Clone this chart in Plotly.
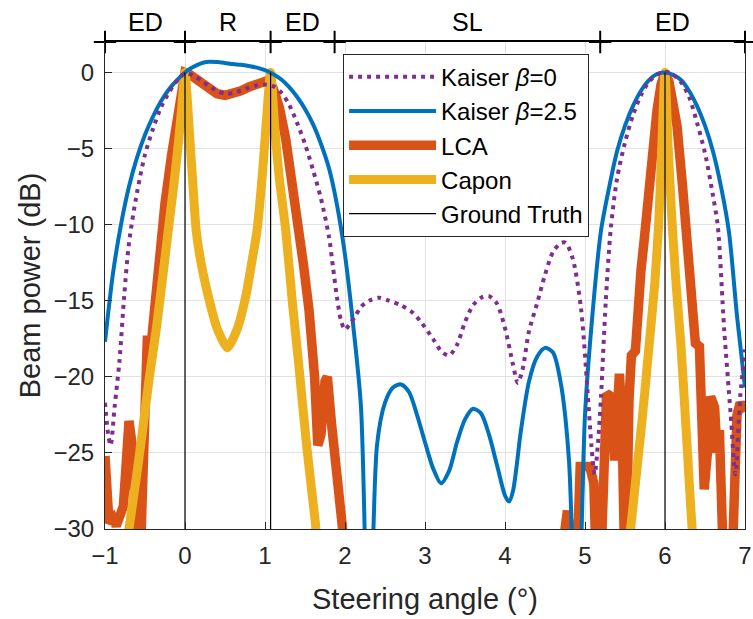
import plotly.graph_objects as go

# ---------------- data ----------------
# Kaiser beta = 0 (purple dotted)
k0_angle = [-1.0, -0.96, -0.93, -0.88, -0.82, -0.76, -0.7, -0.6, -0.5, -0.4, -0.3, -0.2, -0.1, 0.0,
            0.1, 0.2, 0.3, 0.4, 0.5, 0.6, 0.7, 0.8, 0.9, 1.0, 1.1, 1.2, 1.3, 1.4, 1.5, 1.6, 1.7, 1.8,
            1.85, 1.9, 1.95, 2.0, 2.05, 2.13, 2.2, 2.3, 2.42, 2.55, 2.7, 2.85, 2.95, 3.1, 3.2, 3.3,
            3.4, 3.5, 3.6, 3.7, 3.8, 3.9, 4.0, 4.1, 4.16, 4.22, 4.3, 4.4, 4.5, 4.6, 4.7, 4.76, 4.85,
            4.95, 5.03, 5.08, 5.12, 5.16, 5.2, 5.26, 5.32, 5.4, 5.5, 5.6, 5.7, 5.8, 5.9, 6.0, 6.1,
            6.2, 6.3, 6.4, 6.5, 6.6, 6.66, 6.74, 6.82, 6.88, 6.94, 7.0]
k0_power = [-21.7, -23.8, -24.5, -22.0, -19.0, -14.7, -11.2, -7.9, -5.4, -3.7, -2.3, -1.3, -0.55, -0.05,
            -0.2, -0.5, -0.9, -1.2, -1.4, -1.35, -1.2, -1.0, -0.85, -0.8, -0.9, -1.3, -2.1, -3.3, -4.7,
            -6.4, -8.3, -10.8, -12.8, -14.8, -16.3, -16.9, -16.6, -16.0, -15.4, -15.0, -14.8, -15.0,
            -15.3, -15.8, -16.4, -17.5, -18.3, -18.6, -17.9, -16.4, -15.3, -14.8, -14.7, -15.2, -16.8,
            -19.2, -20.4, -19.5, -17.0, -15.2, -13.3, -11.8, -11.2, -11.2, -12.3, -15.5, -20.8, -24.5,
            -26.4, -24.5, -21.3, -15.0, -10.4, -7.0, -4.6, -2.8, -1.5, -0.6, -0.15, 0.05, -0.15, -0.65,
            -1.6, -3.3, -5.3, -8.1, -10.1, -16.9, -22.4, -26.4, -21.3, -18.2]

# Kaiser beta = 2.5 (blue)
k25_angle = [-1.0, -0.9, -0.8, -0.7, -0.6, -0.5, -0.4, -0.3, -0.2, -0.1, 0.0, 0.1, 0.2, 0.3, 0.4,
             0.5, 0.6, 0.7, 0.8, 0.9, 1.0, 1.1, 1.2, 1.3, 1.4, 1.5, 1.6, 1.7, 1.8, 1.9, 2.0, 2.1,
             2.2, 2.3, 2.4, 2.5, 2.6, 2.7, 2.8, 2.9, 3.0, 3.1, 3.2, 3.3, 3.4, 3.5, 3.6, 3.7, 3.8,
             3.9, 4.0, 4.05, 4.1, 4.2, 4.3, 4.4, 4.5, 4.6, 4.7, 4.8, 4.9, 5.0, 5.1, 5.2, 5.3, 5.4,
             5.5, 5.6, 5.7, 5.8, 5.9, 6.0, 6.1, 6.2, 6.3, 6.4, 6.5, 6.6, 6.7, 6.8, 6.9, 7.0]
k25_power = [-17.7, -13.2, -10.0, -7.5, -5.6, -4.1, -2.9, -1.9, -1.1, -0.5, 0.0, 0.35, 0.6, 0.7, 0.68,
             0.62, 0.55, 0.5, 0.42, 0.32, 0.15, -0.1, -0.45, -0.95, -1.6, -2.4, -3.4, -4.7, -6.3,
             -8.7, -12.0, -16.5, -22.0, -40.0, -24.5, -21.7, -20.7, -20.5, -21.0, -22.5, -24.3,
             -26.0, -27.0, -26.2, -24.3, -22.8, -22.1, -22.4, -23.8, -25.8, -27.8, -28.2, -27.5,
             -23.5, -20.3, -18.7, -18.1, -18.4, -20.5, -25.5, -40.0, -22.5, -15.5, -10.4, -7.6,
             -5.2, -3.5, -2.2, -1.2, -0.5, -0.1, 0.0, -0.15, -0.5, -1.2, -2.2, -3.5, -5.2, -7.5,
             -10.5, -16.0, -20.7]

# LCA (red)
lca_angle = [-1.0, -0.95, -0.9, -0.86, -0.77, -0.70, -0.66, -0.61, -0.55, -0.50, -0.47, -0.44, -0.42,
             -0.38, -0.34, -0.30, -0.25, -0.17, -0.10, -0.05, 0.0, 0.05, 0.1, 0.2, 0.3, 0.4, 0.5,
             0.6, 0.7, 0.8, 0.9, 1.0, 1.05, 1.1, 1.18, 1.26, 1.34, 1.42, 1.48, 1.55, 1.62, 1.66,
             1.70, 1.75, 1.78, 1.83, 1.90, 1.96, 2.05, 4.65, 4.74, 4.78, 4.82, 4.91, 4.94, 5.06,
             5.11, 5.13, 5.21, 5.27, 5.33, 5.37, 5.43, 5.46, 5.49, 5.52, 5.55, 5.58, 5.63, 5.66,
             5.70, 5.74, 5.82, 5.90, 5.95, 6.0, 6.05, 6.1, 6.15, 6.22, 6.27, 6.33, 6.38, 6.43,
             6.45, 6.49, 6.53, 6.57, 6.62, 6.65, 6.68, 6.72, 6.85, 6.90, 6.94, 7.0]
lca_power = [-25.2, -29.6, -29.3, -29.8, -28.5, -22.9, -24.5, -30.5, -30.5, -18.0, -17.3, -18.8, -17.6,
             -15.5, -13.4, -10.9, -8.6, -5.5, -2.8, -1.2, 0.0, -0.1, -0.3, -0.7, -1.1, -1.4, -1.5,
             -1.4, -1.2, -0.95, -0.75, -0.6, -0.5, -1.0, -2.3, -4.4, -7.1, -10.1, -12.6, -15.6,
             -20.0, -24.5, -23.8, -20.3, -20.0, -23.0, -27.0, -30.5, -34.0, -34.0, -30.5, -28.8,
             -30.5, -30.5, -25.9, -25.9, -27.0, -30.5, -30.5, -21.1, -21.3, -25.5, -19.8, -22.5,
             -30.5, -30.5, -21.5, -18.6, -18.3, -15.5, -13.0, -11.0, -6.3, -2.5, -0.8, 0.0, -0.6,
             -2.0, -3.5, -7.5, -11.0, -15.0, -17.8, -18.0, -21.0, -27.4, -25.0, -21.3, -22.0,
             -25.0, -23.5, -30.5, -30.5, -22.5, -21.7, -22.3]

# Capon (yellow)
capon_angle = [-0.76, -0.69, -0.6, -0.53, -0.45, -0.36, -0.28, -0.21, -0.14, -0.08, -0.04, 0.0,
               0.05, 0.1, 0.14, 0.2, 0.3, 0.4, 0.53, 0.65, 0.76, 0.85, 0.9, 0.97, 1.02, 1.07,
               1.12, 1.18, 1.26, 1.34, 1.42, 1.52, 1.63, 1.68, 3.0, 5.52, 5.57, 5.64, 5.72, 5.8,
               5.87, 5.92, 5.96, 6.0, 6.04, 6.09, 6.14, 6.2, 6.27, 6.34, 6.38]
capon_power = [-32.0, -29.6, -26.3, -23.5, -20.2, -16.9, -13.5, -10.4, -7.4, -4.5, -2.3, 0.0,
               -3.5, -7.5, -10.4, -12.5, -14.9, -16.8, -18.1, -16.9, -14.7, -12.0, -10.4, -6.5,
               -3.0, 0.0, -3.5, -7.0, -10.4, -15.0, -19.1, -24.5, -29.6, -32.0, -40.0, -32.0,
               -30.0, -26.5, -22.5, -18.0, -14.0, -10.0, -5.0, 0.0, -5.0, -10.0, -14.0, -18.0,
               -24.0, -30.0, -32.0]

# Ground truth source directions
gt_angle = [0.0, 1.07, 6.0]
gt_power = [0.0, 0.0, 0.0]

# Region annotation on top axis
region_edges = [-1.0, 0.0, 1.07, 1.87, 5.19, 7.0]
region_labels = ["ED", "R", "ED", "SL", "ED"]

x_ticks = [-1, 0, 1, 2, 3, 4, 5, 6, 7]
y_ticks = [-30, -25, -20, -15, -10, -5, 0]
x_range = [-1, 7]
y_range = [-30, 2]

# ---------------- figure ----------------
FONT = "Liberation Sans, Arial, Helvetica, sans-serif"
fig = go.Figure()

fig.add_trace(go.Scatter(x=lca_angle, y=lca_power, mode="lines", name="LCA",
                         line=dict(color="#D95319", width=9.5), legendrank=3))
fig.add_trace(go.Scatter(x=capon_angle, y=capon_power, mode="lines", name="Capon",
                         line=dict(color="#EDB120", width=9, shape="spline", smoothing=0.6),
                         legendrank=4))
fig.add_trace(go.Scatter(x=k25_angle, y=k25_power, mode="lines", name="Kaiser <i>β</i>=2.5",
                         line=dict(color="#0072BD", width=4, shape="spline", smoothing=0.8),
                         legendrank=2))
fig.add_trace(go.Scatter(x=k0_angle, y=k0_power, mode="lines", name="Kaiser <i>β</i>=0",
                         line=dict(color="#7E2F8E", width=4, dash="4px,5px", shape="spline",
                                   smoothing=0.8),
                         legendrank=1))

gt_x, gt_y = [], []
for a, p in zip(gt_angle, gt_power):
    gt_x += [a, a, None]
    gt_y += [y_range[0], p, None]
fig.add_trace(go.Scatter(x=gt_x, y=gt_y, mode="lines", name="Ground Truth",
                         line=dict(color="black", width=1.2), legendrank=5))

# crosses at region boundaries on the top axis
fig.add_trace(go.Scatter(x=region_edges, y=[y_range[1]] * len(region_edges), mode="markers",
                         xaxis="x2", showlegend=False, cliponaxis=False, hoverinfo="skip",
                         marker=dict(symbol="cross-thin", size=16,
                                     line=dict(color="black", width=2))))

for i, lab in enumerate(region_labels):
    mid = 0.5 * (region_edges[i] + region_edges[i + 1])
    fig.add_annotation(x=mid, xref="x", y=1, yref="paper", text=lab, showarrow=False,
                       yanchor="bottom", yshift=4, font=dict(family=FONT, size=25, color="black"))

axis_common = dict(showline=True, linecolor="#262626", linewidth=1, ticks="inside", ticklen=7,
                   tickwidth=1, tickcolor="#262626", showgrid=True, gridcolor="#e2e2e2",
                   gridwidth=1, zeroline=False, ticklabelstandoff=5, ticklabeloverflow="allow",
                   automargin=False,
                   tickfont=dict(family=FONT, size=24, color="#262626"))

fig.update_layout(
    width=753, height=619,
    margin=dict(l=105, r=8, t=42, b=90, autoexpand=False),
    paper_bgcolor="white", plot_bgcolor="white",
    font=dict(family=FONT, size=24, color="#262626"),
    xaxis=dict(range=x_range, tickvals=x_ticks, **axis_common,
               title=dict(text="Steering angle (°)", font=dict(family=FONT, size=29, color="#262626"),
                          standoff=20)),
    xaxis2=dict(range=x_range, overlaying="x", side="top", showline=True, linecolor="black",
                linewidth=1.5, showgrid=False, zeroline=False, showticklabels=False, ticks="",
                automargin=False),
    yaxis=dict(range=y_range, tickvals=y_ticks, mirror=True, **axis_common,
               title=dict(text="Beam power (dB)", font=dict(family=FONT, size=29, color="#262626"),
                          standoff=4)),
    showlegend=True,
    legend=dict(x=0.372, y=0.976, xanchor="left", yanchor="top", bgcolor="white",
                bordercolor="#262626", borderwidth=1, itemwidth=87,
                entrywidth=170, entrywidthmode="pixels",
                font=dict(family=FONT, size=24, color="black")),
)

fig.write_html("out.html")
